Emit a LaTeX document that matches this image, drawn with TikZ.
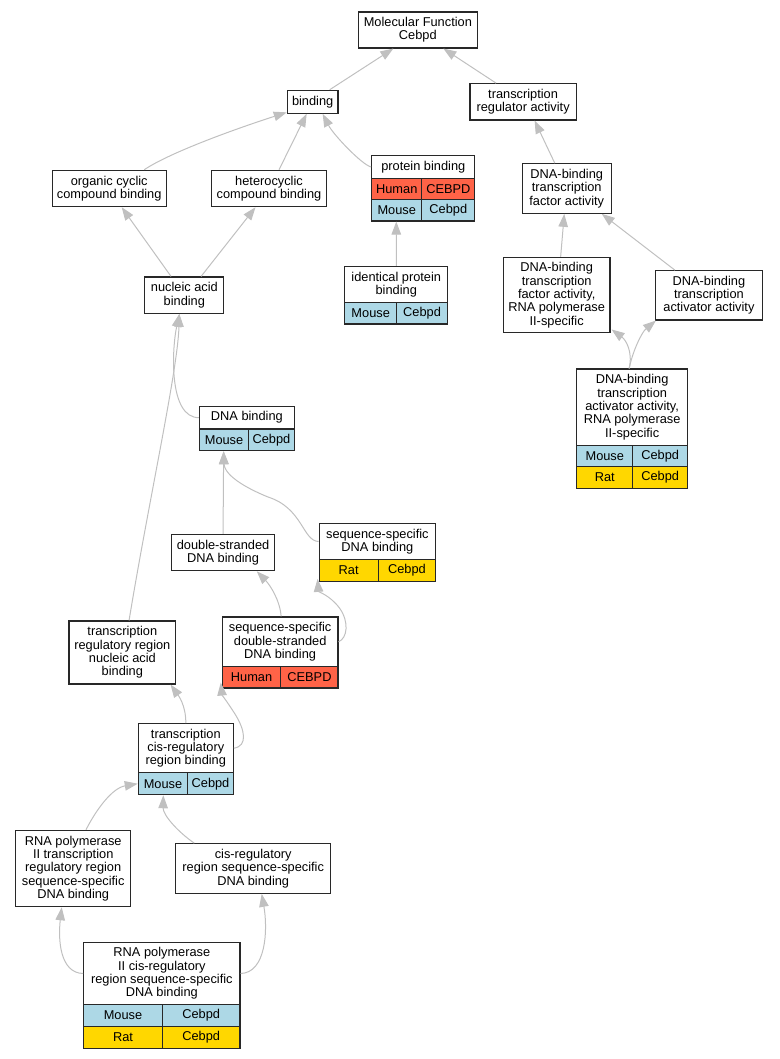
\documentclass[tikz,border=0pt]{standalone}
\usepackage{fontspec}
\setmainfont{Liberation Sans}
\usetikzlibrary{arrows.meta}
\definecolor{human}{RGB}{255,99,71}
\definecolor{mouse}{RGB}{173,216,230}
\definecolor{rat}{RGB}{255,215,0}
\definecolor{edgecol}{RGB}{192,192,192}
\definecolor{bordercol}{RGB}{40,40,40}
\tikzset{
  box/.style={draw=bordercol, line width=1.1pt, fill=white, inner sep=0pt, align=center,
    font=\fontsize{12.8}{13.3}\selectfont},
  cellbox/.style={draw=bordercol, line width=1.1pt, inner sep=0pt, align=center,
    font=\fontsize{12.8}{13.3}\selectfont},
  framebox/.style={draw=bordercol, line width=1.1pt, inner sep=0pt},
  edge/.style={draw=edgecol, line width=1pt, -{Triangle[length=13pt,width=9.5pt]}}
}
\newcommand\gbox[6]{%
  \pgfmathsetmacro\gw{#4-#2}\pgfmathsetmacro\gh{#5-#3}%
  \node[box,minimum width=\gw pt,minimum height=\gh pt] (#1) at ({(#2+#4)/2},{(#3+#5)/2}) {#6};}
\newcommand\gcell[7]{%
  \pgfmathsetmacro\gw{#5-#3}\pgfmathsetmacro\gh{#6-#4}%
  \node[cellbox,fill=#2,minimum width=\gw pt,minimum height=\gh pt] (#1) at ({(#3+#5)/2},{(#4+#6)/2}) {#7};}
\newcommand\gframe[5]{%
  \pgfmathsetmacro\gw{#4-#2}\pgfmathsetmacro\gh{#5-#3}%
  \node[framebox,minimum width=\gw pt,minimum height=\gh pt] (#1) at ({(#2+#4)/2},{(#3+#5)/2}) {};}
\begin{document}
\begin{tikzpicture}[x=1pt,y=-1pt]
\useasboundingbox (0,0) rectangle (779,1059);
% simple boxes
\gbox{n1}{358.3}{12}{477.4}{48}{Molecular Function\\Cebpd}
\gbox{n2}{287.3}{90.3}{338}{113.3}{binding}
\gbox{n3}{470}{83.7}{576.2}{120}{transcription\\regulator activity}
\gbox{n4}{52.1}{170.3}{166.3}{206.7}{organic cyclic\\compound binding}
\gbox{n5}{211.9}{170.3}{326.1}{206.7}{heterocyclic\\compound binding}
% protein binding
\gcell{n6t}{white}{371.7}{155.7}{474.9}{178.3}{protein binding}
\gcell{n6a}{human}{371.7}{178.3}{421.8}{199.7}{Human}
\gcell{n6b}{human}{421.8}{178.3}{474.9}{199.7}{CEBPD}
\gcell{n6c}{mouse}{371.7}{199.7}{421.8}{221}{Mouse}
\gcell{n6d}{mouse}{421.8}{199.7}{474.9}{221}{Cebpd}
\gframe{n6}{371.7}{155.7}{474.9}{221}
\gbox{n7}{522.1}{163.7}{611.4}{213.3}{DNA-binding\\transcription\\factor activity}
\gbox{n8}{144.9}{277}{223.8}{313.3}{nucleic acid\\binding}
% identical protein binding
\gcell{n9t}{white}{344.9}{266.3}{447.6}{302.7}{identical protein\\binding}
\gcell{n9a}{mouse}{344.9}{302.7}{396.5}{324}{Mouse}
\gcell{n9b}{mouse}{396.5}{302.7}{447.6}{324}{Cebpd}
\gframe{n9}{344.9}{266.3}{447.6}{324}
\gbox{n10}{503.3}{257.3}{610}{332.9}{DNA-binding\\transcription\\factor activity,\\RNA polymerase\\II-specific}
\gbox{n11}{655.5}{270.7}{762.3}{320}{DNA-binding\\transcription\\activator activity}
% DNA binding
\gcell{n12t}{white}{199.5}{406.3}{294.3}{429}{DNA binding}
\gcell{n12a}{mouse}{199.5}{429}{248.6}{450.7}{Mouse}
\gcell{n12b}{mouse}{248.6}{429}{294.3}{450.7}{Cebpd}
\gframe{n12}{199.5}{406.3}{294.3}{450.7}
% activator RNA pol II
\gcell{n13t}{white}{576.8}{369}{687.5}{445.3}{DNA-binding\\transcription\\activator activity,\\RNA polymerase\\II-specific}
\gcell{n13a}{mouse}{576.8}{445.3}{632.8}{466.7}{Mouse}
\gcell{n13b}{mouse}{632.8}{445.3}{687.5}{466.7}{Cebpd}
\gcell{n13c}{rat}{576.8}{466.7}{632.8}{488.3}{Rat}
\gcell{n13d}{rat}{632.8}{466.7}{687.5}{488.3}{Cebpd}
\gframe{n13}{576.8}{369}{687.5}{488.3}
\gbox{n14}{171.7}{534.3}{274.4}{570.7}{double-stranded\\DNA binding}
% sequence-specific DNA binding
\gcell{n15t}{white}{319.1}{523.3}{435.7}{559.7}{sequence-specific\\DNA binding}
\gcell{n15a}{rat}{319.1}{559.7}{378.2}{581.3}{Rat}
\gcell{n15b}{rat}{378.2}{559.7}{435.7}{581.3}{Cebpd}
\gframe{n15}{319.1}{523.3}{435.7}{581.3}
\gbox{n16}{69}{621}{175.7}{684}{transcription\\regulatory region\\nucleic acid\\binding}
% sequence-specific double-stranded
\gcell{n17t}{white}{222.3}{617}{338}{666.7}{sequence-specific\\double-stranded\\DNA binding}
\gcell{n17a}{human}{222.3}{666.7}{280.9}{688}{Human}
\gcell{n17b}{human}{280.9}{666.7}{338}{688}{CEBPD}
\gframe{n17}{222.3}{617}{338}{688}
% transcription cis-regulatory region binding
\gcell{n18t}{white}{138.3}{723.7}{233.3}{772.7}{transcription\\cis-regulatory\\region binding}
\gcell{n18m}{mouse}{138.3}{772.7}{187.7}{794.7}{Mouse}
\gcell{n18b}{mouse}{187.7}{772.7}{233.3}{794.7}{Cebpd}
\gframe{n18}{138.3}{723.7}{233.3}{794.7}
\gbox{n19}{15.7}{830.3}{130.7}{906.7}{RNA polymerase\\II transcription\\regulatory region\\sequence-specific\\DNA binding}
\gbox{n20}{175.7}{843.7}{330.7}{893.3}{cis-regulatory\\region sequence-specific\\DNA binding}
% RNA pol II cis-regulatory
\gcell{n21t}{white}{83.7}{942.3}{240}{1004.7}{RNA polymerase\\II cis-regulatory\\region sequence-specific\\DNA binding}
\gcell{n21a}{mouse}{83.7}{1004.7}{162.3}{1026.3}{Mouse}
\gcell{n21b}{mouse}{162.3}{1004.7}{240}{1026.3}{Cebpd}
\gcell{n21c}{rat}{83.7}{1026.3}{162.3}{1048.3}{Rat}
\gcell{n21d}{rat}{162.3}{1026.3}{240}{1048.3}{Cebpd}
\gframe{n21}{83.7}{942.3}{240}{1048.3}
% edges
\draw[edge] ([xshift=17pt]n2.north) -- ([xshift=-24.5pt]n1.south);
\draw[edge] ([xshift=-27pt]n3.north) -- ([xshift=25.5pt]n1.south);
\draw[edge] ([xshift=35pt]n4.north) .. controls (170.7,152) and (238.2,128) .. ([yshift=1.5pt]n2.south west);
\draw[edge] ([xshift=10pt]n5.north) -- ([xshift=-6pt]n2.south);
\draw[edge] (n6t.west) .. controls (362.3,165) and (333.5,135) .. ([xshift=10pt]n2.south);
\draw[edge] ([xshift=-12pt]n7.north) -- ([xshift=11.5pt]n3.south);
\draw[edge] ([xshift=-13.3pt]n8.north) -- ([xshift=12.5pt]n4.south);
\draw[edge] ([xshift=16.7pt]n8.north) -- ([xshift=-13.5pt]n5.south);
\draw[edge] (n9.north) -- ([xshift=-27pt]n6.south);
\draw[edge] ([xshift=4pt]n10.north) -- ([xshift=-2.5pt]n7.south);
\draw[edge] ([xshift=-34pt]n11.north) -- ([xshift=35pt]n7.south);
\draw[edge] (n12t.west) .. controls (168.7,418) and (171.7,350) .. ([xshift=-5pt]n8.south);
\draw[edge] ([xshift=6.7pt]n16.north) .. controls (148.9,500) and (177.7,370) .. ([xshift=-5pt]n8.south);
\draw[edge] ([xshift=-3pt]n13.north) .. controls (633,352) and (626,340) .. ([xshift=1pt,yshift=4pt]n10.south east);
\draw[edge] ([xshift=-3pt]n13.north) .. controls (633,350) and (642,332) .. ([xshift=1pt]n11.south west);
\draw[edge] (n14.north) -- ([xshift=-23.25pt]n12.south);
\draw[edge] (n15t.west) .. controls (302.7,541) and (302.7,508) .. (268,497) .. controls (236.2,484) and (224.3,472) .. ([xshift=-23.25pt]n12.south);
\draw[edge] ([xshift=1pt]n17.north) .. controls (279.9,600) and (270,585) .. ([xshift=33.7pt]n14.south);
\draw[edge] (n17t.east) .. controls (347.4,638) and (349.4,622) .. (339.5,608) .. controls (329.5,595) and (318.6,592) .. ([xshift=-1pt,yshift=3pt]n15.south west);
\draw[edge] (n18.north) .. controls (186,705) and (178,695) .. ([xshift=48.2pt]n16.south);
\draw[edge] (n18t.east) .. controls (248,746) and (245,730) .. (235,714) .. controls (226,700) and (222,695) .. ([xshift=-1pt,yshift=6pt]n17.south west);
\draw[edge] ([xshift=12.8pt]n19.north) .. controls (96,810) and (112,788) .. (n18m.west);
\draw[edge] ([xshift=-58.9pt]n20.north) .. controls (178,832) and (163,815) .. ([xshift=-22.5pt]n18.south);
\draw[edge] (n21t.west) .. controls (60,973) and (58,940) .. ([xshift=-11.5pt]n19.south);
\draw[edge] (n21t.east) .. controls (266,973) and (268,930) .. ([xshift=8.5pt]n20.south);
\end{tikzpicture}
\end{document}
